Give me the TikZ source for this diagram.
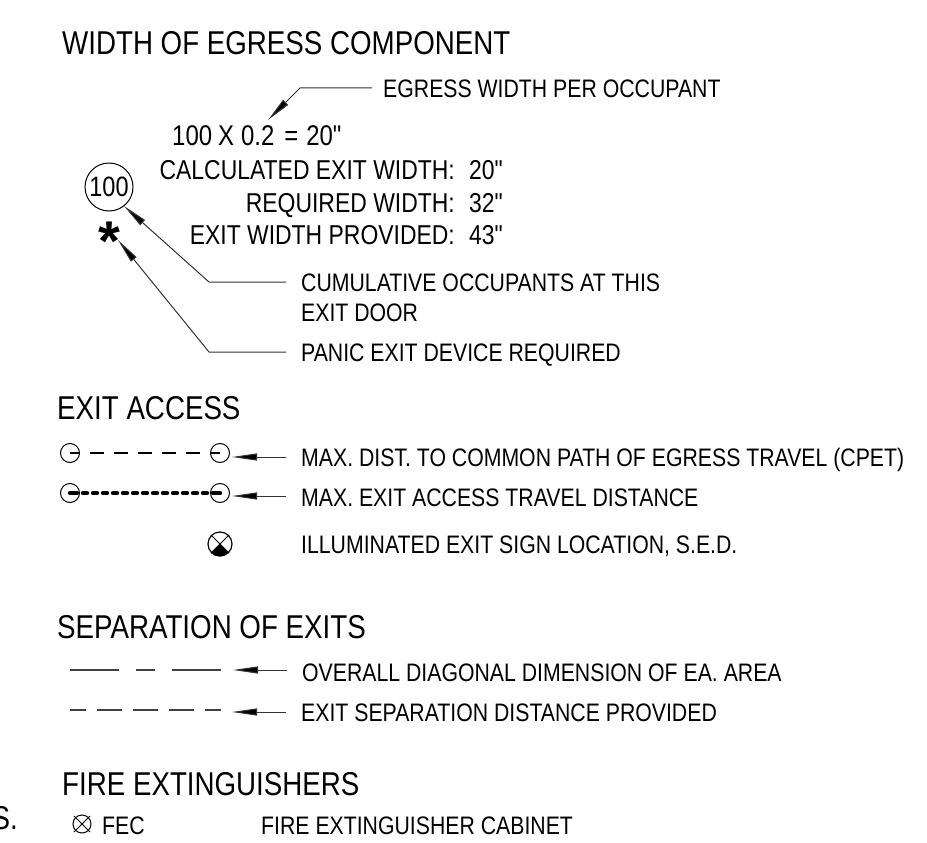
\documentclass[tikz,border=0pt]{standalone}
\usepackage{fontspec}
\newfontfamily\drawfont[FakeStretch=0.84]{Liberation Sans}
\newfontfamily\drawbold{Liberation Sans Bold}
\usetikzlibrary{arrows.meta}
\tikzset{
  head/.style={font=\drawfont\fontsize{33}{36}\selectfont,anchor=base west,inner sep=0pt,text=black},
  lab/.style={font=\drawfont\fontsize{25.3}{28}\selectfont,anchor=base west,inner sep=0pt,text=black},
  calc/.style={font=\drawfont\fontsize{27.3}{29}\selectfont,anchor=base east,inner sep=0pt,text=black},
  calcnum/.style={calc,anchor=base west},
  formula/.style={font=\drawfont\fontsize{28.5}{30}\selectfont,anchor=base west,inner sep=0pt,text=black},
  leader/.style={line width=1pt,draw=black!80,-{Triangle[length=25pt,width=7pt,fill=black]}},
  sym/.style={circle,draw,line width=1pt,inner sep=0pt,minimum size=19pt},
  dashline/.style={line width=1.2pt,draw=black!75},
}
\begin{document}
\begin{tikzpicture}[x=1pt,y=-1pt]
\useasboundingbox (0,0) rectangle (927,843);
\clip (0,0) rectangle (927,843);
% headings
\node[head] (h1) at (62,55) {WIDTH OF EGRESS COMPONENT};
\node[head] (h2) at (57,419) {EXIT ACCESS};
\node[head] (h3) at (57,638) {SEPARATION OF EXITS};
\node[head] (h4) at (62,795) {FIRE EXTINGUISHERS};
\node[head,anchor=base east] (h5) at (18,829) {S.};
% labels
\node[lab] (t1) at (383,97) {EGRESS WIDTH PER OCCUPANT};
\node[formula] (t2) at (172,145) {100\hspace{6pt}X\hspace{7pt}0.2\hspace{10pt}=\hspace{8pt}20"};
\node[calc] (t3) at (455,179) {CALCULATED EXIT WIDTH:};
\node[calcnum] (n3) at (469,179) {20"};
\node[calc] (t4) at (455,212) {REQUIRED WIDTH:};
\node[calcnum] (n4) at (469,212) {32"};
\node[calc] (t5) at (455,244) {EXIT WIDTH PROVIDED:};
\node[calcnum] (n5) at (469,244) {43"};
\node[lab] (t6) at (301,291) {CUMULATIVE OCCUPANTS AT THIS};
\node[lab] (t7) at (301,321) {EXIT DOOR};
\node[lab] (t8) at (301,361) {PANIC EXIT DEVICE REQUIRED};
\node[lab] (t9) at (301,466) {MAX. DIST. TO COMMON PATH OF EGRESS TRAVEL (CPET)};
\node[lab] (t10) at (301,506) {MAX. EXIT ACCESS TRAVEL DISTANCE};
\node[lab] (t11) at (301,553) {ILLUMINATED EXIT SIGN LOCATION, S.E.D.};
\node[lab] (t12) at (302,681) {OVERALL DIAGONAL DIMENSION OF EA. AREA};
\node[lab] (t13) at (301,721) {EXIT SEPARATION DISTANCE PROVIDED};
\node[lab] (t14) at (102,834) {FEC};
\node[lab] (t15) at (261,834) {FIRE EXTINGUISHER CABINET};
% occupant bubble and star
\node[circle,draw,line width=1pt,inner sep=0pt,minimum size=48pt,font=\drawfont\fontsize{28}{30}\selectfont] (occ) at (109,187) {100};
\node[inner sep=0pt,font=\drawbold\fontsize{56}{56}\selectfont] (star) at (109,241) {*};
% leaders
\coordinate (a1) at (372,88); \coordinate (b1) at (300,88); \coordinate (c1) at (268,120);
\draw[leader] (a1) -- (b1) -- (c1);
\coordinate (a2) at (286,282); \coordinate (b2) at (209,282); \coordinate (c2) at (124,206);
\draw[leader] (a2) -- (b2) -- (c2);
\coordinate (a3) at (286,352); \coordinate (b3) at (209,352); \coordinate (c3) at (118,240);
\draw[leader] (a3) -- (b3) -- (c3);
% exit access symbols
\node[sym] (s1) at (70,453) {};
\node[sym] (s2) at (220,453) {};
\draw[line width=1.2pt] (s1.center) -- (s1.east);
\draw[line width=1.2pt] (s2.west) -- (s2.center);
\draw[line width=1.4pt,dash pattern=on 14pt off 10pt] (90,453) -- (201,453);
\node[sym] (s3) at (70,493) {};
\node[sym] (s4) at (220,493) {};
\draw[line width=4.5pt,line cap=round] (70,493) -- (77,493);
\draw[line width=4.5pt,line cap=round] (213,493) -- (220,493);
\draw[line width=4.5pt,line cap=round,dash pattern=on 4pt off 6pt] (83,493) -- (208,493);
\coordinate (e1) at (286,457); \coordinate (f1) at (232,457);
\draw[leader] (e1) -- (f1);
\coordinate (e2) at (286,496); \coordinate (f2) at (232,496);
\draw[leader] (e2) -- (f2);
% exit sign
\node[circle,draw,line width=1.2pt,inner sep=0pt,minimum size=24pt] (sign) at (220,544) {};
\fill (sign.center) -- (sign.south west) arc[start angle=225,end angle=315,radius=12pt] -- cycle;
\draw[line width=1pt] (sign.north west) -- (sign.south east) (sign.north east) -- (sign.south west);
% separation lines
\coordinate (l1) at (70,670); \coordinate (l2) at (119,670);
\draw[dashline] (l1) -- (l2);
\coordinate (l3) at (136,670); \coordinate (l4) at (155,670);
\draw[dashline] (l3) -- (l4);
\coordinate (l5) at (172,670); \coordinate (l6) at (221,670);
\draw[dashline] (l5) -- (l6);
\draw[dashline,dash pattern=on 16pt off 11pt on 25pt off 11pt on 25pt off 11pt on 25pt off 11pt on 16pt off 0pt] (70,710) -- (221,710);
\coordinate (e3) at (287,670); \coordinate (f3) at (233,670);
\draw[leader] (e3) -- (f3);
\coordinate (e4) at (286,712); \coordinate (f4) at (232,712);
\draw[leader] (e4) -- (f4);
% fire extinguisher symbol
\node[circle,draw,line width=1pt,inner sep=0pt,minimum size=18pt] (fec) at (82,824) {};
\draw[line width=1pt] ([shift={(-8,-8)}]fec.center) -- ([shift={(8,8)}]fec.center) ([shift={(8,-8)}]fec.center) -- ([shift={(-8,8)}]fec.center);
\end{tikzpicture}
\end{document}
